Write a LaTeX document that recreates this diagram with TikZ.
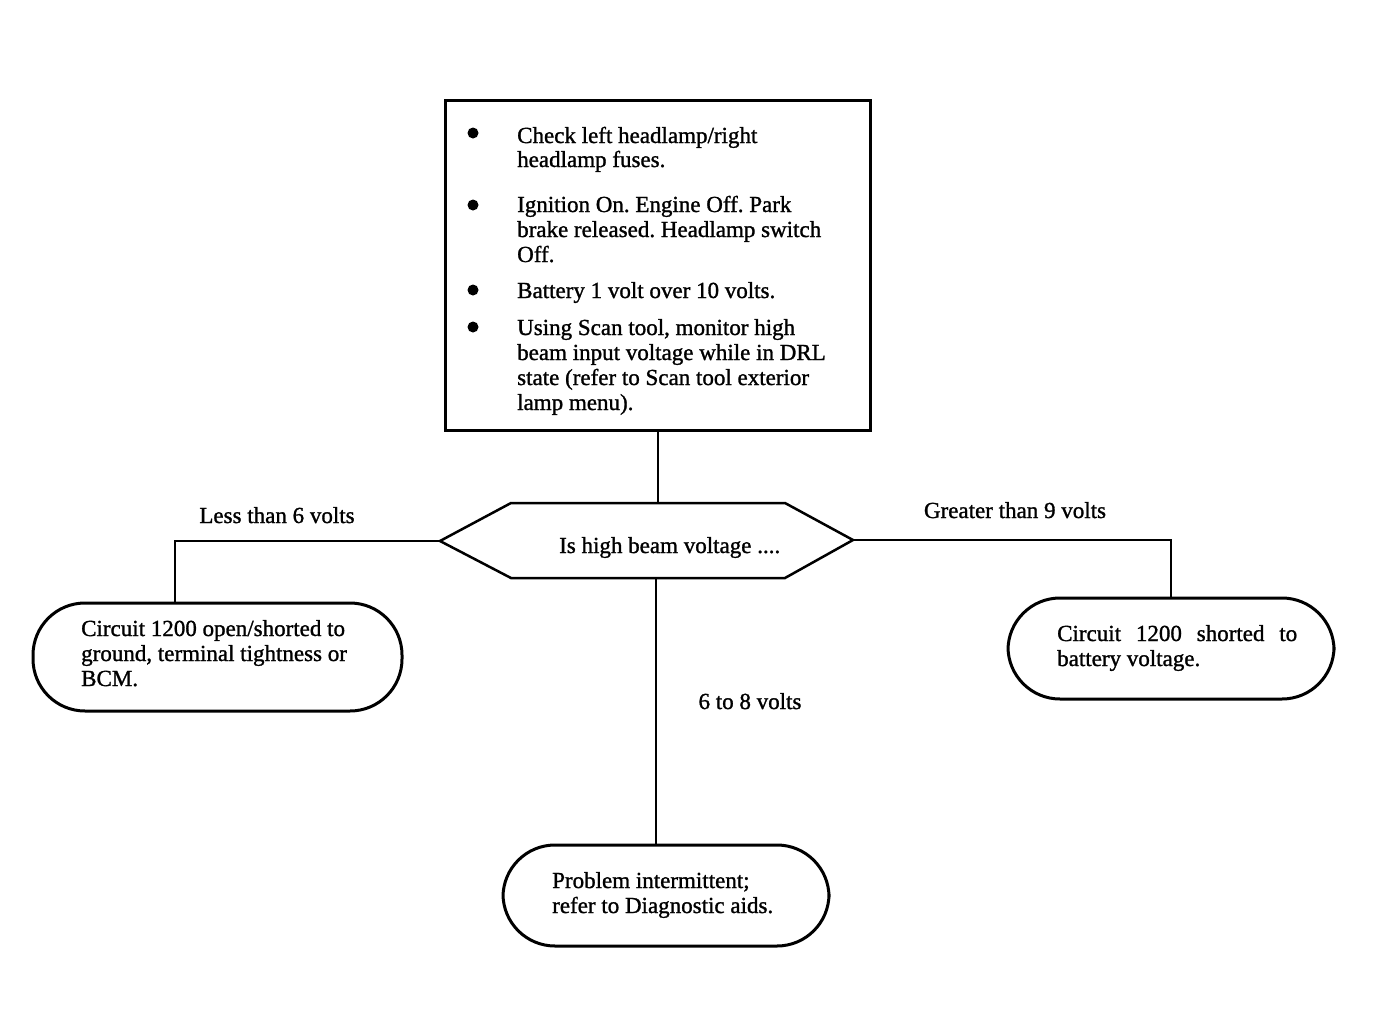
\documentclass[tikz,border=0pt]{standalone}
\usepackage{fontspec}
\setmainfont{Liberation Serif}[FakeBold=1.2]
\begin{document}
\frenchspacing
\begin{tikzpicture}[x=1pt,y=-1pt,
  txt/.style={anchor=base west, inner sep=0pt, font=\fontsize{23}{24.5}\selectfont},
  frame/.style={draw, line width=3pt},
  oval/.style={draw, line width=3pt, rounded corners=52pt},
  conn/.style={draw, line width=2pt},
  bullet/.style={fill=black, circle, inner sep=0pt, minimum size=11pt}]
\useasboundingbox (0,0) rectangle (1392,1028);
% top box
\node[frame, minimum width=425pt, minimum height=330pt] (box) at (657.5,265) {};
\node[bullet] (b1) at (473,133) {};
\node[bullet] (b2) at (473,205) {};
\node[bullet] (b3) at (473,290) {};
\node[bullet] (b4) at (473,327) {};
\node[txt] (t1a) at (517,143) {Check left headlamp/right};
\node[txt] (t1b) at (517,167) {headlamp fuses.};
\node[txt] (t2a) at (517,212) {Ignition On. Engine Off. Park};
\node[txt] (t2b) at (517,237) {brake released. Headlamp switch};
\node[txt] (t2c) at (517,262) {Off.};
\node[txt] (t3a) at (517,298) {Battery 1 volt over 10 volts.};
\node[txt] (t4a) at (517,335) {Using Scan tool, monitor high};
\node[txt] (t4b) at (517,360) {beam input voltage while in DRL};
\node[txt] (t4c) at (517,385) {state (refer to Scan tool exterior};
\node[txt] (t4d) at (517,410) {lamp menu).};
% hexagon
\coordinate (hexL) at (440,541);
\coordinate (hexTL) at (511,503);
\coordinate (hexT) at (655,503);
\coordinate (hexTR) at (785,503);
\coordinate (hexR) at (853,540);
\coordinate (hexBR) at (785,578);
\coordinate (hexB) at (656,578);
\coordinate (hexBL) at (511,578);
\draw[line width=2.5pt, line join=miter] (hexL) -- (hexTL) -- (hexTR) -- (hexR) -- (hexBR) -- (hexBL) -- cycle;
\node[txt] (q) at (559,553) {Is high beam voltage ....};
% outcome ovals
\node[oval, minimum width=369pt, minimum height=108pt] (left) at (217.5,657) {};
\node[oval, minimum width=326pt, minimum height=101pt] (right) at (1171,648.5) {};
\node[oval, minimum width=326pt, minimum height=101pt] (bottom) at (666,895.5) {};
\node[txt] (l1) at (81,636) {Circuit 1200 open/shorted to};
\node[txt] (l2) at (81,661) {ground, terminal tightness or};
\node[txt] (l3) at (81,686) {BCM.};
\node[txt] (r1) at (1057,641) {\hbox to 240pt{Circuit\hfill 1200\hfill shorted\hfill to}};
\node[txt] (r2) at (1057,666) {battery voltage.};
\node[txt] (m1) at (552,888) {Problem intermittent;};
\node[txt] (m2) at (552,913) {refer to Diagnostic aids.};
% connectors
\draw[conn] (box.south |- 0,430) -- (box.south |- hexT);
\coordinate (lcorner) at (175,541);
\draw[conn] (hexL) -- (lcorner) -- (lcorner |- left.north);
\draw[conn] (hexR) -| (right.north);
\draw[conn] (hexB) -- (hexB |- bottom.north);
% labels
\node[txt, anchor=base] (lab1) at (277,523) {Less than 6 volts};
\node[txt, anchor=base] (lab2) at (1015,518) {Greater than 9 volts};
\node[txt, anchor=base] (lab3) at (750,709) {6 to 8 volts};
\end{tikzpicture}
\end{document}
